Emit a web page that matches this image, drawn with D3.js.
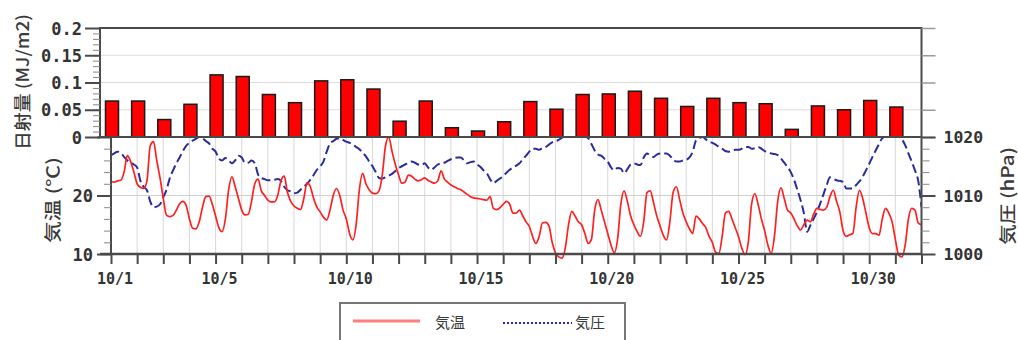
<!DOCTYPE html>
<html><head><meta charset="utf-8">
<script src="https://cdn.jsdelivr.net/npm/d3@7"></script>
<style>
html,body{margin:0;padding:0;background:#fff;}
svg{display:block;}
.num{font-family:"DejaVu Sans Mono",monospace;font-weight:bold;fill:#333;}
.jp{font-family:"Noto Sans CJK JP",sans-serif;fill:#3a3a3a;}
</style></head><body>
<svg id="chart" width="1018" height="340"></svg>
<script>
// October: one solar-radiation bar per day, 3-hourly temperature and pressure
const days = d3.range(1, 32).map(d => "10/" + d);
const dayLabels = ["10/1", "10/5", "10/10", "10/15", "10/20", "10/25", "10/30"];

// daily solar radiation (MJ/m2)
const solar = [0.066, 0.066, 0.032, 0.060, 0.114, 0.111, 0.078, 0.063, 0.103, 0.105,
  0.088, 0.029, 0.066, 0.017, 0.011, 0.028, 0.065, 0.051, 0.078, 0.079,
  0.084, 0.071, 0.056, 0.071, 0.063, 0.061, 0.014, 0.057, 0.050, 0.067, 0.055];

// air temperature (°C), every 3 hours from 10/1 0:00 to 11/1 0:00
const temperature = [
  22.4, 22.3, 22.5, 22.6, 24.0, 26.8, 25.8, 24.0,
  22.0, 21.4, 21.2, 22.5, 28.5, 29.2, 26.0, 23.0,
  19.5, 16.6, 16.4, 16.6, 17.5, 18.6, 19.0, 18.3,
  16.0, 14.4, 14.3, 15.5, 18.0, 19.8, 19.9, 18.5,
  16.5, 14.5, 13.8, 16.0, 21.0, 23.2, 21.5, 19.5,
  17.5, 16.7, 16.8, 19.0, 22.0, 22.8, 20.8, 20.0,
  19.2, 18.9, 18.9, 20.0, 22.5, 23.3, 20.5, 19.0,
  18.2, 17.8, 17.6, 19.5, 22.2, 21.5, 19.5, 18.0,
  17.2, 16.3, 15.8, 17.5, 20.0, 21.2, 20.0, 17.5,
  16.0, 13.5, 12.4, 15.0, 21.0, 23.8, 22.0, 21.0,
  20.4, 20.3, 20.8, 23.5, 28.5, 30.0, 27.5, 25.3,
  23.5, 22.1, 22.3, 23.5, 23.3, 22.8, 22.5, 22.7,
  23.0, 22.6, 22.3, 22.1, 22.5, 24.2, 22.8, 22.3,
  21.8, 21.5, 21.2, 21.0, 20.6, 20.2, 19.8, 19.6,
  19.5, 19.4, 19.3, 19.2, 19.8, 17.8, 17.6, 17.9,
  18.5, 19.0, 18.5, 17.0, 17.0, 17.5, 16.5, 15.5,
  14.7, 13.0, 11.8, 13.0, 15.3, 15.4, 14.8, 12.0,
  10.2, 9.5, 9.3, 11.0, 15.0, 17.3, 16.5, 15.5,
  15.0, 13.5, 11.8, 12.5, 17.5, 19.3, 17.5, 15.5,
  13.5, 11.5, 10.2, 12.5, 18.5, 20.8, 19.0, 16.5,
  15.0, 13.8, 13.0, 15.5, 20.5, 20.8, 18.8, 16.5,
  14.8, 13.2, 12.4, 15.5, 20.5, 21.5, 19.3, 17.0,
  15.5, 14.3, 13.5, 16.5, 16.0, 15.2, 14.5, 13.0,
  12.0, 10.3, 10.1, 13.0, 17.0, 17.3, 16.0, 14.5,
  13.0, 11.0, 9.9, 12.0, 18.5, 20.3, 18.5, 16.0,
  14.0, 11.5, 10.1, 13.0, 19.0, 21.3, 19.5, 17.5,
  17.0, 16.0, 14.8, 14.1, 15.0, 15.8, 15.5, 16.8,
  17.8, 17.6, 17.5, 18.0, 19.8, 20.9, 19.0, 17.2,
  14.0, 13.0, 13.3, 13.5, 18.0, 20.9, 19.5, 17.0,
  14.5, 13.5, 13.5, 13.2, 16.0, 17.8, 17.0, 15.5,
  12.5, 9.8, 9.5, 11.5, 16.0, 17.8, 17.5, 15.3,
  15.0];

// sea-level pressure (hPa), same 3-hourly times
const pressure = [
  1016.9, 1017.2, 1017.5, 1017.3, 1016.6, 1016.0, 1015.6, 1015.3,
  1014.8, 1012.5, 1011.5, 1010.9, 1009.0, 1008.0, 1008.1, 1008.5,
  1009.7, 1011.0, 1013.0, 1014.3, 1015.5, 1016.5, 1017.6, 1018.5,
  1019.0, 1019.4, 1019.7, 1020.0, 1019.8, 1019.3, 1018.9, 1018.0,
  1017.5, 1016.3, 1016.0, 1016.4, 1016.0, 1015.5, 1016.0, 1016.8,
  1016.5, 1015.6, 1015.6, 1016.0, 1015.5, 1013.6, 1013.0, 1012.8,
  1012.6, 1012.6, 1012.7, 1012.8, 1012.5, 1011.5, 1010.9, 1010.7,
  1010.4, 1010.5, 1011.0, 1011.5, 1012.0, 1012.7, 1013.5, 1014.4,
  1015.0, 1015.8, 1017.5, 1018.9, 1019.3, 1019.7, 1019.8, 1019.5,
  1019.2, 1019.0, 1018.7, 1018.3, 1017.9, 1017.3, 1016.7, 1015.8,
  1015.0, 1014.0, 1013.0, 1012.9, 1013.1, 1013.4, 1013.7, 1014.2,
  1014.7, 1015.0, 1015.3, 1015.6, 1015.8, 1015.6, 1015.3, 1015.2,
  1015.5, 1014.8, 1014.4, 1014.8, 1015.3, 1015.5, 1015.6, 1015.9,
  1016.2, 1016.4, 1016.5, 1016.5, 1016.0, 1015.5, 1015.7, 1015.8,
  1015.3, 1014.9, 1014.3, 1013.8, 1012.8, 1012.1, 1012.5, 1012.9,
  1013.3, 1013.9, 1014.4, 1014.8, 1015.1, 1015.5, 1016.2, 1016.8,
  1017.5, 1018.0, 1018.0, 1017.8, 1018.1, 1018.3, 1018.7, 1019.1,
  1019.3, 1019.5, 1019.9, 1020.1, 1020.2, 1020.3, 1020.3, 1020.3,
  1020.2, 1020.1, 1019.8, 1018.8, 1017.7, 1017.0, 1016.8, 1016.3,
  1015.8, 1014.8, 1014.3, 1014.7, 1014.6, 1013.8, 1014.5, 1015.3,
  1015.5, 1015.3, 1015.2, 1016.5, 1017.2, 1016.8, 1016.6, 1017.0,
  1017.2, 1017.2, 1017.2, 1016.8, 1016.2, 1015.8, 1015.8, 1016.0,
  1016.1, 1016.5, 1017.5, 1019.4, 1019.8, 1020.0, 1019.6, 1019.2,
  1019.0, 1018.7, 1018.3, 1018.0, 1017.6, 1017.5, 1017.6, 1017.8,
  1017.8, 1018.0, 1018.3, 1018.3, 1018.0, 1018.1, 1018.3, 1018.0,
  1017.6, 1017.4, 1017.2, 1017.1, 1016.9, 1016.3, 1015.6, 1014.9,
  1014.0, 1012.7, 1011.0, 1009.2, 1007.0, 1003.8, 1004.9, 1006.0,
  1007.2, 1008.6, 1010.2, 1011.8, 1013.1, 1012.9, 1012.6, 1012.5,
  1012.3, 1011.2, 1011.2, 1011.2, 1011.8, 1012.4, 1013.2, 1014.3,
  1015.4, 1016.6, 1017.7, 1018.8, 1019.8, 1020.1, 1020.2, 1020.1,
  1020.0, 1020.0, 1019.6, 1018.6, 1017.2, 1015.8, 1014.3, 1012.5,
  1008.0];

const solarTicks = [0, 0.05, 0.1, 0.15, 0.2];
const tempTicks = [10, 20];
const presTicks = [1000, 1010, 1020];

// ---- layout ----
const svg = d3.select("#chart");
const top1 = 28, bot1 = 137, bot2 = 254;
const leftBar = 100, leftLine = 111, right = 921.5;
const stepsPerDay = 8;

const x = d3.scaleLinear().domain([0, days.length]).range([leftLine, right]);
const ySolar = d3.scaleLinear().domain([0, 0.2]).range([bot1, top1]);
const yTemp = d3.scaleLinear().domain([10, 30]).range([bot2, bot1]);
const yPres = d3.scaleLinear().domain([1000, 1020]).range([bot2, bot1]);

const axisColor = "#4a4a4a";

// ---- grid ----
const grid = svg.append("g");
grid.selectAll(".hs").data([0.05, 0.1, 0.15]).join("line")
  .attr("x1", leftBar).attr("x2", right)
  .attr("y1", d => ySolar(d)).attr("y2", d => ySolar(d))
  .attr("stroke", "#dcdcdc").attr("stroke-width", 1.2);
grid.selectAll(".vd").data(d3.range(1, days.length)).join("line")
  .attr("x1", d => x(d)).attr("x2", d => x(d))
  .attr("y1", bot1).attr("y2", bot2)
  .attr("stroke", "#d8d8d8").attr("stroke-width", 1);
grid.append("line")
  .attr("x1", leftLine).attr("x2", right)
  .attr("y1", yTemp(20)).attr("y2", yTemp(20))
  .attr("stroke", "#cfcfcf").attr("stroke-width", 1.2);

// ---- solar bars ----
svg.append("g").selectAll("rect").data(solar).join("rect")
  .attr("x", (d, i) => x(i) + 1 - 6.5)
  .attr("width", 13)
  .attr("y", d => ySolar(d))
  .attr("height", d => ySolar(0) - ySolar(d))
  .attr("fill", "#ff0000")
  .attr("stroke", "#1a1a1a").attr("stroke-width", 1.5);

// ---- lines ----
svg.append("clipPath").attr("id", "lowerClip")
  .append("rect").attr("x", leftLine).attr("y", bot1 + 1)
  .attr("width", right - leftLine).attr("height", bot2 - bot1 + 10);

const tLine = d3.line()
  .x((d, i) => x(i / stepsPerDay))
  .y(d => yTemp(d))
  .curve(d3.curveMonotoneX);
const pLine = d3.line()
  .x((d, i) => x(i / stepsPerDay))
  .y(d => yPres(d))
  .curve(d3.curveMonotoneX);

svg.append("path").datum(pressure)
  .attr("d", pLine).attr("fill", "none")
  .attr("stroke", "#2b2b9c").attr("stroke-width", 2)
  .attr("stroke-dasharray", "9,4")
  .attr("clip-path", "url(#lowerClip)");
svg.append("path").datum(temperature)
  .attr("d", tLine).attr("fill", "none")
  .attr("stroke", "#ff2020").attr("stroke-width", 1.7);

// ---- frames ----
svg.append("rect").attr("x", leftBar).attr("y", top1)
  .attr("width", right - leftBar).attr("height", bot1 - top1)
  .attr("fill", "none").attr("stroke", axisColor).attr("stroke-width", 2);
svg.append("rect").attr("x", leftLine).attr("y", bot1)
  .attr("width", right - leftLine).attr("height", bot2 - bot1)
  .attr("fill", "none").attr("stroke", axisColor).attr("stroke-width", 2);
svg.append("line").attr("x1", leftBar).attr("x2", right)
  .attr("y1", bot2).attr("y2", bot2)
  .attr("stroke", axisColor).attr("stroke-width", 2.5);

function styleAxis(g, color, width) {
  g.select(".domain").remove();
  g.selectAll(".tick line").attr("stroke", color).attr("stroke-width", width);
}

// solar axis (left, upper)
svg.append("g").attr("transform", `translate(${leftBar},0)`)
  .call(d3.axisLeft(ySolar).tickValues(d3.range(0, 0.2001, 0.01)).tickSize(7).tickFormat(""))
  .call(g => styleAxis(g, "#888", 1));
svg.append("g").attr("transform", `translate(${leftBar},0)`)
  .call(d3.axisLeft(ySolar).tickValues(solarTicks).tickSize(15).tickPadding(3)
    .tickFormat(d3.format(".2~f")))
  .call(g => styleAxis(g, axisColor, 2))
  .call(g => g.selectAll("text").attr("class", "num").attr("font-size", 17).attr("dy", "0.36em"));

// solar axis (right, upper, unlabelled)
svg.append("g").attr("transform", `translate(${right},0)`)
  .call(d3.axisRight(ySolar).tickValues(solarTicks).tickSize(14).tickFormat(""))
  .call(g => styleAxis(g, "#9a9a9a", 1.5));

// temperature axis (left, lower)
svg.append("g").attr("transform", `translate(${leftLine},0)`)
  .call(d3.axisLeft(yTemp).tickValues(d3.range(10, 30.01, 2)).tickSize(7).tickFormat(""))
  .call(g => styleAxis(g, "#888", 1));
svg.append("g").attr("transform", `translate(${leftLine},0)`)
  .call(d3.axisLeft(yTemp).tickValues([10, 20, 30]).tickSize(14).tickPadding(4)
    .tickFormat(d => tempTicks.includes(d) ? d : ""))
  .call(g => styleAxis(g, axisColor, 2))
  .call(g => g.selectAll("text").attr("class", "num").attr("font-size", 17).attr("dy", "0.36em"));

// pressure axis (right, lower)
svg.append("g").attr("transform", `translate(${right},0)`)
  .call(d3.axisRight(yPres).tickValues(d3.range(1000, 1020.01, 2)).tickSize(8).tickFormat(""))
  .call(g => styleAxis(g, "#888", 1));
svg.append("g").attr("transform", `translate(${right},0)`)
  .call(d3.axisRight(yPres).tickValues(presTicks).tickSize(14).tickPadding(8).tickFormat(d3.format("d")))
  .call(g => styleAxis(g, axisColor, 2))
  .call(g => g.selectAll("text").attr("class", "num").attr("font-size", 16.5).attr("dy", "0.36em"));

// date axis
svg.append("g").attr("transform", `translate(0,${bot2})`)
  .call(d3.axisBottom(x).tickValues(d3.range(0, days.length + 1)).tickSize(10).tickFormat(""))
  .call(g => styleAxis(g, axisColor, 2));
svg.append("g").selectAll("text").data(dayLabels).join("text")
  .attr("class", "num").attr("font-size", 15)
  .attr("x", d => x(days.indexOf(d)) + 4)
  .attr("y", 284)
  .attr("text-anchor", "middle")
  .text(d => d);

// axis titles
function vTitle(text, cx, cy, len) {
  svg.append("text").attr("class", "jp")
    .attr("transform", `translate(${cx},${cy}) rotate(-90)`)
    .attr("text-anchor", "middle").attr("dy", "0.36em")
    .attr("font-size", 17).attr("font-weight", 500)
    .attr("textLength", len).attr("lengthAdjust", "spacingAndGlyphs")
    .text(text);
}
vTitle("日射量 (MJ/m2)", 23, 82, 136);
vTitle("気温 (℃)", 53, 200, 86);
vTitle("気圧 (hPa)", 1008, 196, 98);

// legend
const lg = svg.append("g");
lg.append("rect").attr("x", 340).attr("y", 303).attr("width", 285).attr("height", 60)
  .attr("fill", "#fff").attr("stroke", "#777").attr("stroke-width", 2);
lg.append("line").attr("x1", 353).attr("x2", 420).attr("y1", 321).attr("y2", 321)
  .attr("stroke", "#ff7f7f").attr("stroke-width", 3);
lg.append("text").attr("class", "jp").attr("x", 435).attr("y", 326)
  .attr("font-size", 15).attr("fill", "#555").attr("dy", "0.1em").text("気温");
lg.append("line").attr("x1", 503).attr("x2", 572).attr("y1", 323).attr("y2", 323)
  .attr("stroke", "#2b2b9c").attr("stroke-width", 2).attr("stroke-dasharray", "2,2");
lg.append("text").attr("class", "jp").attr("x", 575).attr("y", 326)
  .attr("font-size", 15).attr("fill", "#555").attr("dy", "0.1em").text("気圧");
</script>
</body></html>
